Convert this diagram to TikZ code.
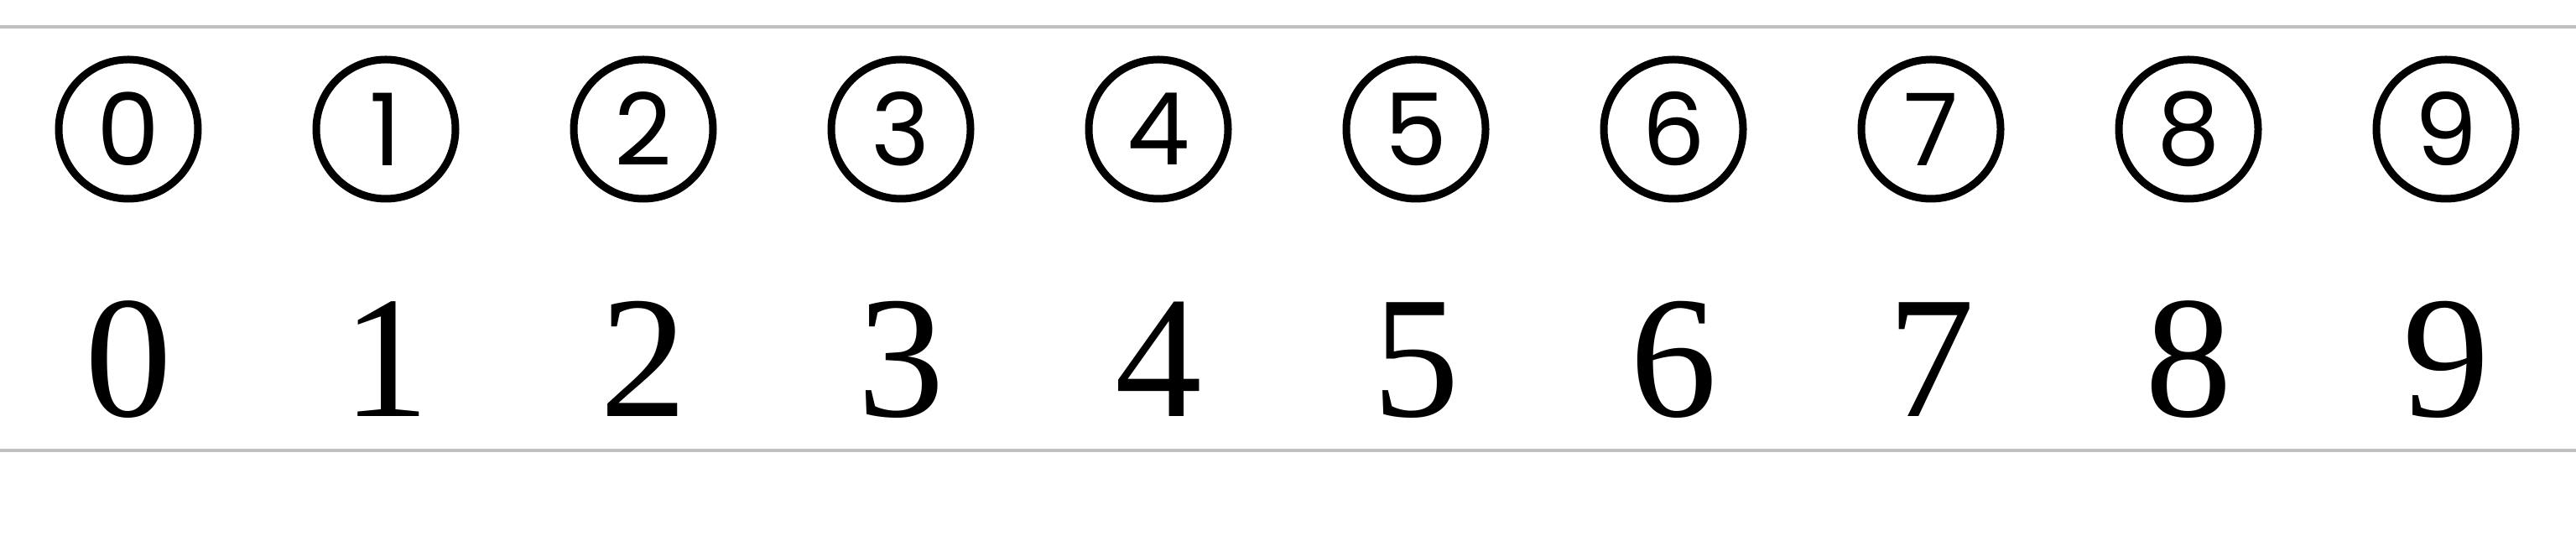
\documentclass[tikz,border=0pt]{standalone}
\usepackage{fontspec}
\usepackage{tikz}
\newfontfamily\ringfont{Poppins}
\newfontfamily\figfont{Liberation Serif}

\begin{document}
\begin{tikzpicture}[ring/.style = {circle, draw, line width = .9mm, minimum size = 1.66cm, inner sep = 0pt, font = \ringfont\fontsize{34pt}{40pt}\selectfont},
  fig/.style = {anchor = base, inner sep = 0pt, font = \figfont\fontsize{59pt}{66pt}\selectfont},
  rule/.style = {line width = .33mm, color = black!25}]
\useasboundingbox (0,0) rectangle (30.71,-6.45);
\draw [rule] (0,-.32) -- (30.71,-.32);
\draw [rule] (0,-5.37) -- (30.71,-5.37);
\node [ring] (c0) at (1.53,-1.54) {0};
\node [ring] (c1) at (4.60,-1.54) {1};
\node [ring] (c2) at (7.67,-1.54) {2};
\node [ring] (c3) at (10.74,-1.54) {3};
\node [ring] (c4) at (13.81,-1.54) {4};
\node [ring] (c5) at (16.88,-1.54) {5};
\node [ring] (c6) at (19.95,-1.54) {6};
\node [ring] (c7) at (23.02,-1.54) {7};
\node [ring] (c8) at (26.09,-1.54) {8};
\node [ring] (c9) at (29.16,-1.54) {9};
%\node [ring] (c10) at (32.23,-1.54) {10};
\node [fig] (d0) at (1.53,-4.97) {0};
\node [fig] (d1) at (4.60,-4.97) {1};
\node [fig] (d2) at (7.67,-4.97) {2};
\node [fig] (d3) at (10.74,-4.97) {3};
\node [fig] (d4) at (13.81,-4.97) {4};
\node [fig] (d5) at (16.88,-4.97) {5};
\node [fig] (d6) at (19.95,-4.97) {6};
\node [fig] (d7) at (23.02,-4.97) {7};
\node [fig] (d8) at (26.09,-4.97) {8};
\node [fig] (d9) at (29.16,-4.97) {9};
\end{tikzpicture}
\end{document}
